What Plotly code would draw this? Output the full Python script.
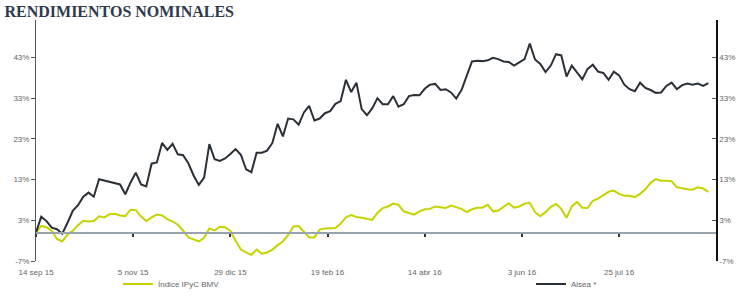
import plotly.graph_objects as go

# trading-day index (every 2 trading days)
days = list(range(0, 257, 2))

alsea = [
    0, 3.9, 2.8, 1.2, 0.8, -0.3, 2.4, 5.3, 6.7, 8.8,
    9.8, 8.8, 13.1, 12.8, 12.4, 12.1, 11.8, 9.4, 12.3, 14.7,
    11.8, 11.3, 16.9, 17.2, 22.0, 20.3, 21.8, 19.2, 19.0, 17.0,
    14.0, 11.7, 13.5, 21.7, 18.0, 17.6, 18.2, 19.3, 20.5, 19.1,
    15.5, 14.8, 19.6, 19.6, 20.1, 22.0, 26.7, 23.6, 28.0, 27.8,
    26.5, 29.5, 31.1, 27.5, 28.0, 29.3, 29.8, 31.6, 32.3, 37.5,
    34.5, 36.8, 30.3, 28.8, 30.5, 33.0, 31.5, 31.5, 33.5, 30.9,
    31.5, 33.5, 33.8, 33.7, 35.3, 36.3, 36.5, 35.0, 35.2, 34.4,
    32.9, 35.0, 38.3, 42.0, 42.2, 42.1, 42.3, 42.9, 42.6, 42.0,
    41.9, 41.0, 41.8, 42.6, 46.4, 42.5, 41.4, 39.4, 41.0, 43.8,
    43.5, 38.3, 41.0, 39.2, 37.6, 40.2, 41.2, 39.5, 39.2, 37.5,
    39.5, 38.6, 36.3, 35.2, 34.7, 36.8, 35.5, 35.0, 34.3, 34.4,
    36.0, 36.8, 35.2, 36.2, 36.6, 36.3, 36.6, 36.0, 36.7,
]

ipyc = [
    0, 1.6, 1.3, 0.4, -1.6, -2.2, -0.5, 0.4, 1.8, 2.9,
    2.7, 2.8, 4.0, 3.7, 4.5, 4.6, 4.2, 4.0, 5.6, 5.5,
    3.9, 2.8, 3.7, 4.4, 4.2, 3.3, 2.7, 1.9, 0.5, -1.2,
    -1.7, -2.2, -1.3, 1.0, 0.5, 1.4, 1.3, 0.4, -2.0, -4.2,
    -4.9, -5.5, -4.2, -5.2, -4.9, -4.2, -3.1, -2.2, -0.6, 1.5,
    1.6, 0.1, -1.2, -1.2, 0.7, 1.0, 1.1, 1.1, 2.2, 3.7,
    4.3, 3.8, 3.6, 3.3, 3.1, 4.8, 6.0, 6.4, 7.1, 6.8,
    5.2, 4.8, 4.4, 5.2, 5.7, 5.8, 6.4, 6.2, 6.0, 6.6,
    6.2, 5.8, 5.0, 5.7, 6.1, 6.1, 6.8, 5.2, 5.4, 6.3,
    7.2, 6.1, 6.4, 7.1, 7.3, 5.0, 4.0, 5.0, 6.3, 7.0,
    5.8, 3.6, 6.4, 7.5, 6.1, 6.0, 7.8, 8.3, 9.1, 10.0,
    10.3, 9.5, 9.0, 9.0, 8.7, 9.5, 10.6, 12.2, 13.1, 12.7,
    12.7, 12.6, 11.1, 10.8, 10.6, 10.5, 11.1, 10.8, 10.0,
]

tick_days = [0, 37, 74, 111, 148, 185, 222]
tick_labels = ["14 sep 15", "5 nov 15", "29 dic 15", "19 feb 16",
               "14 abr 16", "3 jun 16", "25 jul 16"]
y_ticks = [-7, 3, 13, 23, 33, 43]
y_labels = ["-7%", "3%", "13%", "23%", "33%", "43%"]

X_RANGE = [0, 258.9]
Y_RANGE = [-7, 52.2]

fig = go.Figure()
fig.add_trace(go.Scatter(x=days, y=ipyc, mode="lines", name="Índice IPyC BMV",
                         line=dict(color="#c5d300", width=2), legend="legend"))
fig.add_trace(go.Scatter(x=days, y=alsea, mode="lines", name="Alsea *",
                         line=dict(color="#2a3038", width=2), legend="legend2"))
# helper trace for secondary axes
fig.add_trace(go.Scatter(x=[0], y=[0], xaxis="x2", yaxis="y2", mode="lines",
                         opacity=0, showlegend=False, hoverinfo="skip"))

tickfont = dict(family="Liberation Sans, Arial, sans-serif", size=8, color="#666666")
legfont = dict(family="Liberation Sans, Arial, sans-serif", size=8, color="#666666")

fig.update_layout(
    width=747, height=297,
    margin=dict(l=36, r=31, t=20, b=36, autoexpand=False),
    paper_bgcolor="white", plot_bgcolor="white",
    title=dict(text="<b>RENDIMIENTOS NOMINALES</b>", x=0.006, xanchor="left",
               y=0.962, yanchor="middle",
               font=dict(family="Liberation Serif, Times New Roman, serif",
                         size=16, color="#2e3a4c")),
    xaxis=dict(range=X_RANGE, tickvals=tick_days, ticktext=tick_labels,
               showgrid=False, zeroline=False, showline=False, ticks="outside",
               ticklen=3, tickcolor="rgba(0,0,0,0)",
               tickfont=tickfont),
    xaxis2=dict(range=X_RANGE, overlaying="x", anchor="free",
                position=(0 - Y_RANGE[0]) / (Y_RANGE[1] - Y_RANGE[0]),
                tickvals=tick_days, showticklabels=False, ticks="outside",
                ticklen=3, tickwidth=1.5, tickcolor="#333333",
                showline=True, linecolor="#97a3ae", linewidth=2,
                showgrid=False, zeroline=False),
    yaxis=dict(range=Y_RANGE, tickvals=y_ticks, ticktext=y_labels,
               showgrid=False, zeroline=False, showline=True,
               linecolor="#555555", linewidth=1, ticks="outside",
               ticklen=4, tickcolor="#555555", tickfont=tickfont),
    yaxis2=dict(range=Y_RANGE, overlaying="y", side="right", anchor="x",
                tickvals=y_ticks, ticktext=y_labels,
                showgrid=False, zeroline=False, showline=True,
                linecolor="#111111", linewidth=1.5, ticks="inside",
                ticklen=4, tickcolor="#555555", tickfont=tickfont),
    legend=dict(orientation="h", xref="container", yref="container",
                x=118 / 747, xanchor="left", y=1 - 284 / 297, yanchor="middle",
                font=legfont, bgcolor="rgba(0,0,0,0)"),
    legend2=dict(orientation="h", xref="container", yref="container",
                 x=531 / 747, xanchor="left", y=1 - 284 / 297, yanchor="middle",
                 font=legfont, bgcolor="rgba(0,0,0,0)"),
    showlegend=True,
)

fig.write_html("out.html")
